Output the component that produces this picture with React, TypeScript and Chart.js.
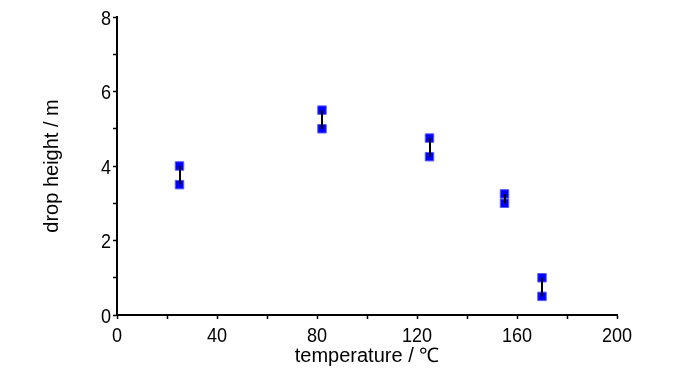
import React, { useEffect, useRef } from "react";
import { Chart, registerables } from "chart.js";

Chart.register(...registerables);

const temperatures = [25, 82, 125, 155, 170];
const upperHeights = [4.0, 5.5, 4.75, 3.25, 1.0];
const lowerHeights = [3.5, 5.0, 4.25, 3.0, 0.5];
const xMajorTicks = [0, 40, 80, 120, 160, 200];
const yMajorTicks = [0, 2, 4, 6, 8];
const xAllTicks = [0, 20, 40, 60, 80, 100, 120, 140, 160, 180, 200];
const yAllTicks = [0, 1, 2, 3, 4, 5, 6, 7, 8];

const FONT = "'Liberation Sans', Arial, sans-serif";

const pairLines = {
  id: "pairLines",
  afterDatasetsDraw(chart: any) {
    const { ctx, scales } = chart;
    const xs = scales.x;
    const ys = scales.y;
    ctx.save();
    ctx.strokeStyle = "#000";
    ctx.lineWidth = 2;
    temperatures.forEach((t, i) => {
      const px = Math.round(xs.getPixelForValue(t));
      ctx.beginPath();
      ctx.moveTo(px, ys.getPixelForValue(upperHeights[i]));
      ctx.lineTo(px, ys.getPixelForValue(lowerHeights[i]));
      ctx.stroke();
    });
    ctx.restore();
  },
};

// condensed tick labels (the reference uses a narrow face)
const narrowTickLabels = {
  id: "narrowTickLabels",
  afterDraw(chart: any) {
    const { ctx, scales, chartArea } = chart;
    const xs = scales.x;
    const ys = scales.y;
    ctx.save();
    ctx.fillStyle = "#000";
    ctx.font = `21px ${FONT}`;
    ctx.textBaseline = "alphabetic";
    xMajorTicks.forEach((v) => {
      const px = xs.getPixelForValue(v);
      ctx.save();
      ctx.translate(px, chartArea.bottom + 26.5);
      ctx.scale(0.86, 1);
      ctx.textAlign = "center";
      ctx.fillText(String(v), 0, 0);
      ctx.restore();
    });
    yMajorTicks.forEach((v) => {
      const py = ys.getPixelForValue(v);
      ctx.save();
      ctx.translate(chartArea.left - 6, py + 7.5);
      ctx.scale(0.86, 1);
      ctx.textAlign = "right";
      ctx.fillText(String(v), 0, 0);
      ctx.restore();
    });
    ctx.restore();
  },
};

export default function App() {
  const ref = useRef<HTMLCanvasElement | null>(null);
  useEffect(() => {
    document.body.style.margin = "0";
    const canvas = ref.current;
    if (!canvas) return;
    const pointStyle = {
      pointStyle: "rect" as const,
      pointRadius: 6,
      backgroundColor: "#0000ff",
      borderColor: "#5a5aff",
      borderWidth: 1,
      showLine: false,
    };
    const chart = new Chart(canvas, {
      type: "scatter",
      data: {
        datasets: [
          { label: "upper", data: temperatures.map((t, i) => ({ x: t, y: upperHeights[i] })), ...pointStyle },
          { label: "lower", data: temperatures.map((t, i) => ({ x: t, y: lowerHeights[i] })), ...pointStyle },
        ],
      },
      options: {
        responsive: false,
        animation: false,
        layout: { padding: { left: 40, right: 83, top: 17, bottom: 0 } },
        plugins: { legend: { display: false }, tooltip: { enabled: false } },
        scales: {
          x: {
            type: "linear",
            min: 0,
            max: 200,
            afterFit: (s: any) => { s.height = 374 - 315; },
            afterBuildTicks: (s: any) => {
              s.ticks = xAllTicks.map((v) => ({ value: v }));
            },
            ticks: { display: false },
            grid: { drawOnChartArea: false, drawTicks: true, tickLength: 4, color: "#000", tickWidth: 1.5 },
            border: { display: true, color: "#000", width: 2 },
            title: {
              display: true,
              text: "temperature / ℃",
              color: "#000",
              font: { family: FONT, size: 20 },
              padding: { top: 0, bottom: 6 },
            },
          },
          y: {
            type: "linear",
            min: 0,
            max: 8,
            afterFit: (s: any) => { s.width = 77; },
            afterBuildTicks: (s: any) => {
              s.ticks = yAllTicks.map((v) => ({ value: v }));
            },
            ticks: { display: false },
            grid: { drawOnChartArea: false, drawTicks: true, tickLength: 4, color: "#000", tickWidth: 1.5 },
            border: { display: true, color: "#000", width: 2 },
            title: {
              display: true,
              text: "drop height / m",
              color: "#000",
              font: { family: FONT, size: 20 },
              padding: { top: 0, bottom: 0 },
            },
          },
        },
      },
      plugins: [pairLines, narrowTickLabels],
    });
    return () => chart.destroy();
  }, []);
  return <canvas ref={ref} width={700} height={374} style={{ display: "block" }} />;
}
